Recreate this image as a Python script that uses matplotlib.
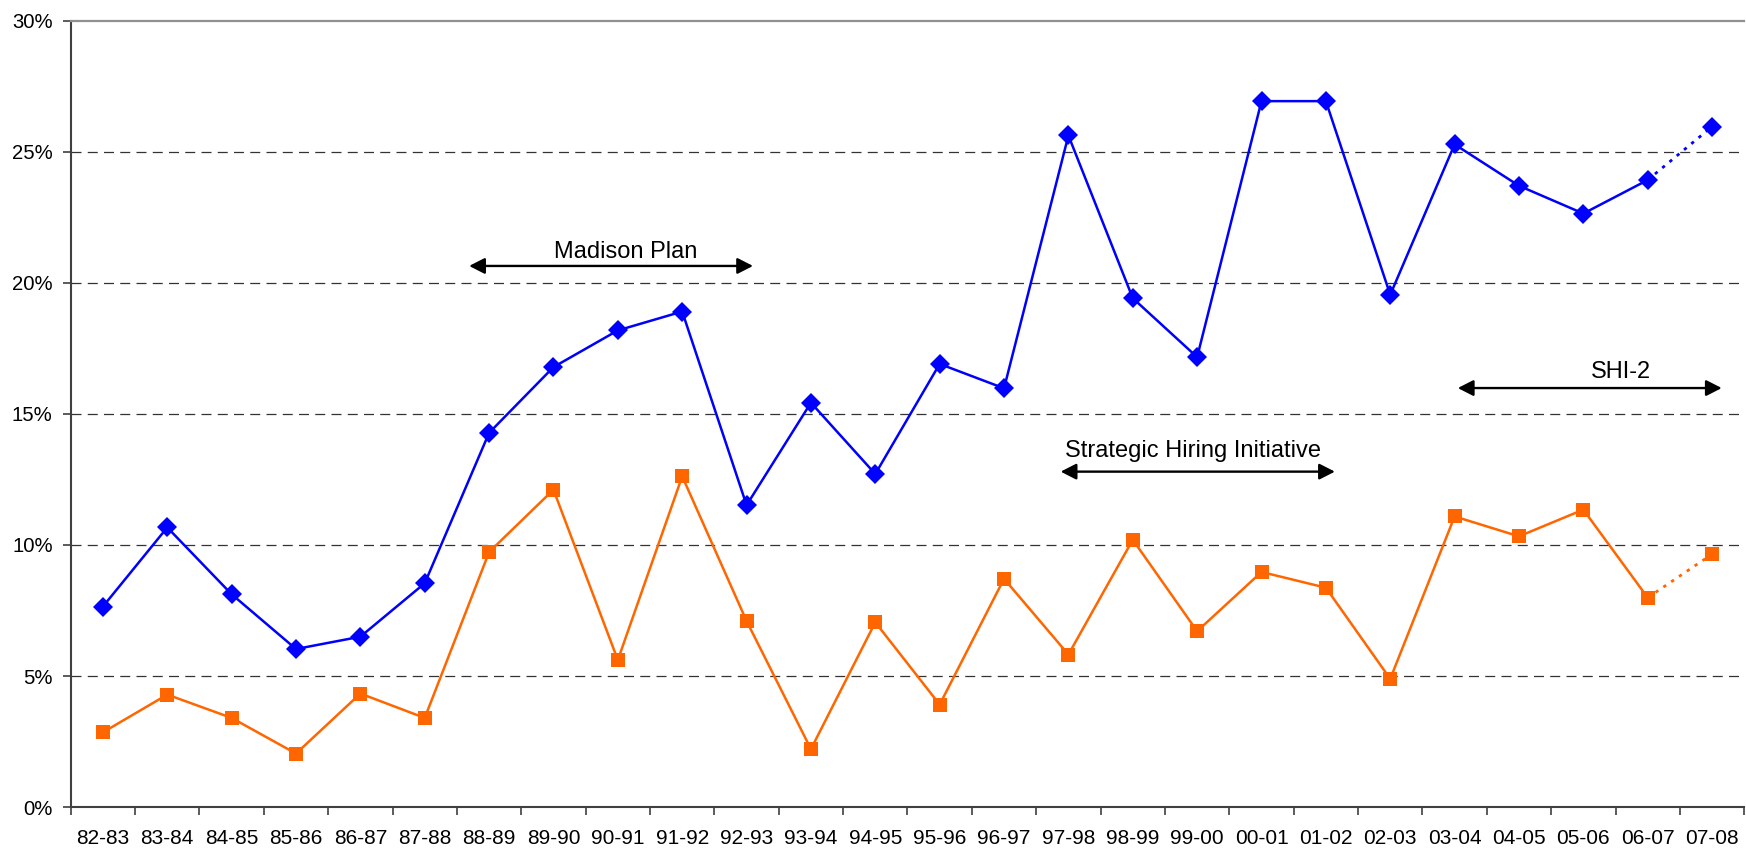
import numpy as np
import matplotlib.pyplot as plt
from matplotlib.ticker import FixedLocator, PercentFormatter

plt.rcParams['font.family'] = ['Liberation Sans', 'DejaVu Sans']

# school years
years = ['82-83', '83-84', '84-85', '85-86', '86-87', '87-88', '88-89', '89-90',
         '90-91', '91-92', '92-93', '93-94', '94-95', '95-96', '96-97', '97-98',
         '98-99', '99-00', '00-01', '01-02', '02-03', '03-04', '04-05', '05-06',
         '06-07', '07-08']

# percent values
blue_vals = [7.65, 10.67, 8.12, 6.03, 6.50, 8.54, 14.28, 16.79, 18.19, 18.91,
             11.52, 15.43, 12.71, 16.91, 15.98, 25.63, 19.42, 17.17, 26.94, 26.94,
             19.55, 25.29, 23.71, 22.65, 23.93, 25.97]
orange_vals = [2.85, 4.29, 3.40, 2.04, 4.33, 3.40, 9.73, 12.11, 5.61, 12.62,
               7.10, 2.21, 7.05, 3.91, 8.71, 5.82, 10.20, 6.71, 8.97, 8.37,
               4.89, 11.09, 10.33, 11.35, 7.99, 9.65]

# annotation spans: start, end (category units), arrow level, text baseline, text centre, label
spans = [
    (5.69, 10.10, 20.65, 20.97, 8.12, 'Madison Plan'),
    (14.88, 19.14, 12.80, 13.36, 16.94, 'Strategic Hiring Initiative'),
    (21.05, 25.15, 15.99, 16.37, 23.59, 'SHI-2'),
]

x = np.arange(len(years))
blue = '#0000FF'
orange = '#FF6600'

fig = plt.figure(figsize=(17.46, 8.52), dpi=100)
ax = fig.add_axes([0.0405, 0.0528, 0.9585, 0.9226])

# grid lines
for yv in [5, 10, 15, 20, 25]:
    ax.axhline(yv, color='#333333', lw=0.9, ls=(0, (8, 5)), zorder=1)

# solid part of each series, dotted last segment
ax.plot(x[:-1], blue_vals[:-1], color=blue, lw=1.8, marker='D', ms=10.5,
        mew=0, zorder=3)
ax.plot(x[-2:], blue_vals[-2:], color=blue, lw=2, ls=(0, (1.2, 2.2)), zorder=2)
ax.plot(x[-1:], blue_vals[-1:], color=blue, marker='D', ms=10.5, mew=0, ls='none', zorder=3)

ax.plot(x[:-1], orange_vals[:-1], color=orange, lw=1.8, marker='s', ms=10.5,
        mew=0, zorder=3)
ax.plot(x[-2:], orange_vals[-2:], color=orange, lw=2, ls=(0, (1.2, 2.2)), zorder=2)
ax.plot(x[-1:], orange_vals[-1:], color=orange, marker='s', ms=10.5, mew=0, ls='none', zorder=3)

# double-headed arrows with labels
for x0, x1, ya, yt, xt, label in spans:
    ax.annotate('', xy=(x1, ya), xytext=(x0, ya),
                arrowprops=dict(arrowstyle='<|-|>,head_length=0.47,head_width=0.24',
                                color='black', lw=1.7, shrinkA=0, shrinkB=0,
                                mutation_scale=20), zorder=4)
    ax.text(xt, yt, label, ha='center', va='baseline', fontsize=17,
            color='black', zorder=4)

ax.set_xlim(-0.5, len(years) - 0.5)
ax.set_ylim(0, 30)

ax.set_xticks(x)
ax.set_xticklabels(years, fontsize=15)
ax.xaxis.set_minor_locator(FixedLocator(np.arange(-0.5, len(years), 1)))
ax.tick_params(axis='x', which='major', length=0, pad=16)
ax.tick_params(axis='x', which='minor', length=6, width=1.2, color='#404040')

ax.set_yticks([0, 5, 10, 15, 20, 25, 30])
ax.yaxis.set_major_formatter(PercentFormatter(decimals=0))
ax.tick_params(axis='y', labelsize=14.6, length=6, width=1.2, color='#404040', pad=7)

ax.spines['right'].set_visible(False)
ax.spines['top'].set_color('#909090')
ax.spines['top'].set_linewidth(1.6)
for s in ['left', 'bottom']:
    ax.spines[s].set_color('#404040')
    ax.spines[s].set_linewidth(1.5)

fig.savefig('out.png', dpi=100)
